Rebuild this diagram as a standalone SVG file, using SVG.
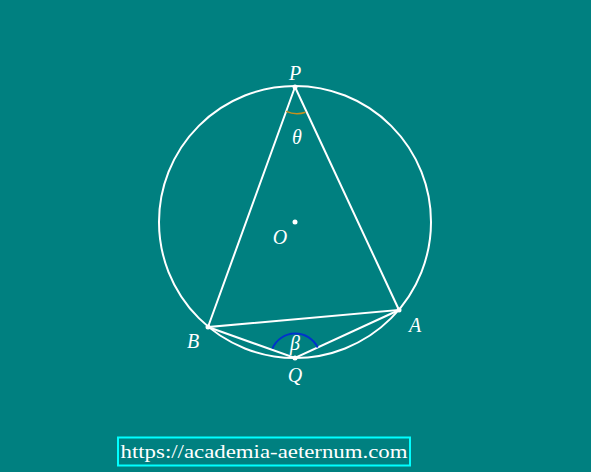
<svg xmlns="http://www.w3.org/2000/svg" width="591" height="472" viewBox="0 0 591 472">
<style>
.ln{stroke:#ffffff;stroke-width:2;fill:none}
.lbl{font-family:"Liberation Serif","Times New Roman",serif;font-style:italic;font-size:20px;fill:#ffffff;text-anchor:middle}
.pt{fill:#ffffff}
</style>
<rect width="591" height="472" fill="#008080"/>
<g id="connectors">
<circle class="ln" cx="295" cy="222" r="136"/>
<polyline class="ln" points="295,87 208,327 399,310 295,87"/>
<polyline class="ln" points="208,327 295,358 399,310"/>
<path d="M286.2,111.4 A26,26 0 0 0 305.5,112.3" stroke="#c8901c" stroke-width="1.5" fill="none"/>
<path d="M272.4,348.5 A25,25 0 0 1 317.7,347.5" stroke="#0033cc" stroke-width="2" fill="none"/>
</g>
<g id="P"><circle class="pt" cx="295" cy="87" r="2.5"/><text class="lbl" x="295" y="80">P</text><text class="lbl" x="297" y="144" font-size="18">θ</text></g>
<g id="O"><circle class="pt" cx="295" cy="222" r="2.5"/><text class="lbl" x="280" y="244">O</text></g>
<g id="B"><circle class="pt" cx="208" cy="327" r="2.5"/><text class="lbl" x="193" y="348">B</text></g>
<g id="A"><circle class="pt" cx="399" cy="310" r="2.5"/><text class="lbl" x="415" y="332">A</text></g>
<g id="Q"><circle class="pt" cx="295" cy="358" r="2.5"/><text class="lbl" x="295" y="382">Q</text><text class="lbl" x="295" y="350" font-size="17" fill="#b8e4e4">β</text></g>
<g id="url">
<rect x="118" y="437.5" width="292" height="28" fill="none" stroke="#00ffff" stroke-width="2"/>
<text x="264" y="458" font-family="'Liberation Serif','Times New Roman',serif" font-size="19" fill="#ffffff" text-anchor="middle" textLength="287" lengthAdjust="spacingAndGlyphs">https://academia-aeternum.com</text>
</g>
</svg>
